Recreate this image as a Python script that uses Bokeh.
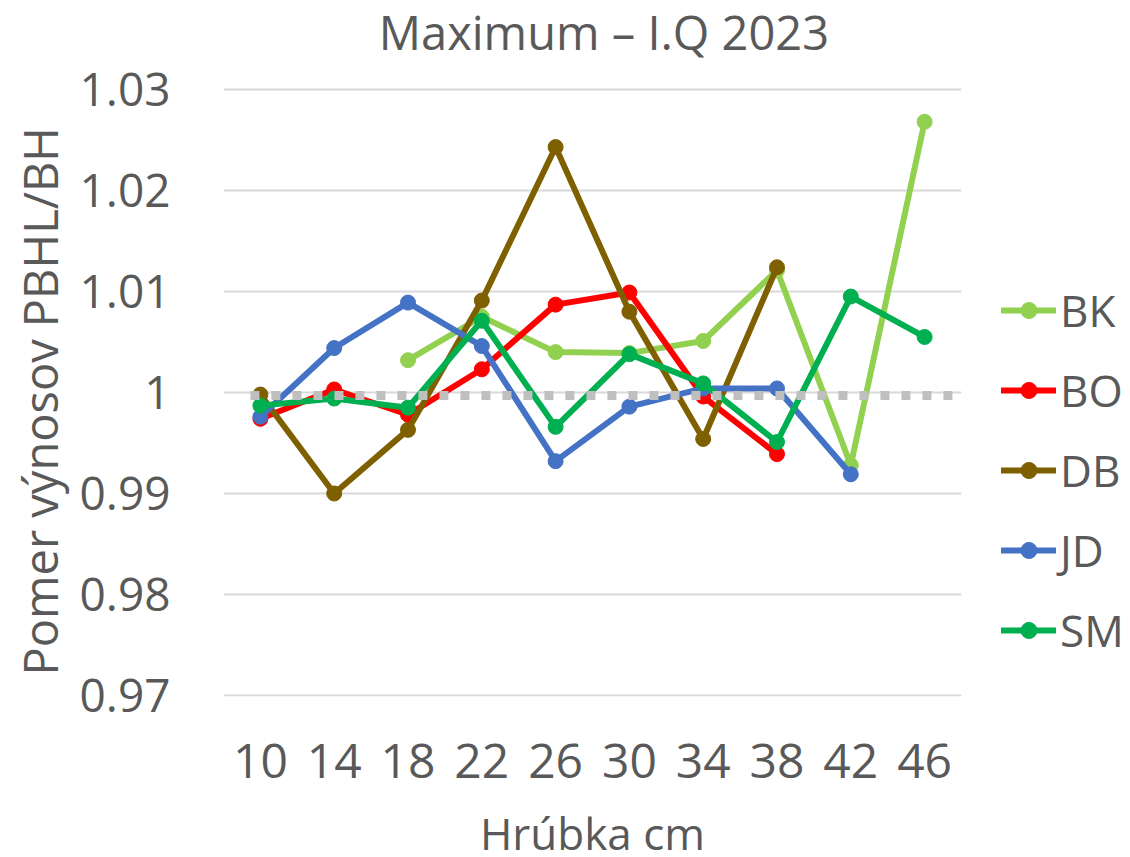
from bokeh.plotting import figure
from bokeh.models import FixedTicker, Legend, LegendItem, Range1d, Label, Title
from bokeh.embed import file_html
from bokeh.resources import INLINE

# ---- data ----
categories = [10, 14, 18, 22, 26, 30, 34, 38, 42, 46]
BK = [None, None, 1.0032, 1.0075, 1.0040, 1.0039, 1.0051, 1.0121, 0.9928, 1.0268]
BO = [0.9974, 1.0003, 0.9978, 1.0023, 1.0087, 1.0099, 0.9996, 0.9939, None, None]
DB = [0.9998, 0.9900, 0.9963, 1.0091, 1.0243, 1.0080, 0.9954, 1.0124, None, None]
JD = [0.9976, 1.0044, 1.0089, 1.0046, 0.9932, 0.9986, 1.0004, 1.0004, 0.9919, None]
SM = [0.9987, 0.9994, 0.9985, 1.0071, 0.9966, 1.0038, 1.0009, 0.9951, 1.0095, 1.0055]
reference_level = 0.9997
series_names = ["BK", "BO", "DB", "JD", "SM"]
series_values = [BK, BO, DB, JD, SM]
series_colors = ["#92D050", "#FF0000", "#7F6000", "#4472C4", "#00B050"]
y_ticks = [0.97, 0.98, 0.99, 1.0, 1.01, 1.02, 1.03]
y_tick_labels = ["0.97", "0.98", "0.99", "1", "1.01", "1.02", "1.03"]
title_text = "Maximum \u2013 I.Q 2023"
x_title = "Hr\u00fabka cm"
y_title = "Pomer v\u00fdnosov PBHL/BH"

FONT = "Open Sans"
TXT = "#595959"

# frame reaches the top of the canvas so the chart title can sit inside it;
# 1.03 maps to 89 px from the top, 0.97 to 695 px
p = figure(frame_width=738, frame_height=696,
           x_range=Range1d(8, 48), y_range=Range1d(0.969901, 1.038812),
           output_backend="svg", toolbar_location=None, title_location=None,
           min_border_left=221, min_border_right=171,
           min_border_top=0, min_border_bottom=161)
p.outline_line_color = None
p.background_fill_color = "white"
p.border_fill_color = "white"

# axes
p.xaxis.ticker = FixedTicker(ticks=categories)
p.yaxis.ticker = FixedTicker(ticks=y_ticks)
p.yaxis.major_label_overrides = dict(zip(y_ticks, y_tick_labels))
for ax in (p.xaxis, p.yaxis):
    ax.axis_line_color = None
    ax.major_tick_line_color = None
    ax.minor_tick_line_color = None
    ax.major_tick_out = 0
    ax.major_tick_in = 0
    ax.major_label_text_font = FONT
    ax.major_label_text_color = TXT
    ax.axis_label_text_font = FONT
    ax.axis_label_text_color = TXT
    ax.axis_label_text_font_style = "normal"
p.yaxis.major_label_text_font_size = "46px"
p.xaxis.major_label_text_font_size = "48px"
p.yaxis.major_label_standoff = 53
p.xaxis.major_label_standoff = 47
p.xaxis.axis_label = x_title
p.xaxis.axis_label_text_font_size = "44px"
p.xaxis.axis_label_standoff = 22

# y axis title as a side title (placed along the axis)
ytitle = Title(text=y_title, align="left", offset=21, standoff=10,
               text_font=FONT, text_font_size="47px", text_font_style="normal",
               text_color=TXT)
p.add_layout(ytitle, "left")

p.xgrid.grid_line_color = None
p.ygrid.ticker = FixedTicker(ticks=y_ticks)
p.ygrid.grid_line_color = "#D9D9D9"
p.ygrid.grid_line_width = 2

items = []
for name, vals, col in zip(series_names, series_values, series_colors):
    xs = [c for c, v in zip(categories, vals) if v is not None]
    ys = [v for v in vals if v is not None]
    ln = p.line(xs, ys, line_color=col, line_width=6, line_join="round", line_cap="round")
    sc = p.scatter(xs, ys, size=15, fill_color=col, line_color=col)
    items.append(LegendItem(label=name, renderers=[ln, sc]))

# dotted reference line
p.line([9.46, 48], [reference_level, reference_level], line_color="#BFBFBF",
       line_width=9, line_dash="9 12", line_cap="butt")

# chart title
p.add_layout(Label(x=28.62, y=1.03, y_offset=58, text=title_text,
                   text_font=FONT, text_font_size="47px", text_color=TXT,
                   text_align="center", text_baseline="alphabetic"))

legend = Legend(items=items, location=(40, 36), orientation="vertical")
legend.glyph_width = 55
legend.glyph_height = 40
legend.label_height = 40
legend.spacing = 20
legend.padding = 0
legend.margin = 0
legend.label_standoff = 4
legend.label_text_font = FONT
legend.label_text_font_size = "44px"
legend.label_text_color = TXT
legend.border_line_color = None
legend.background_fill_alpha = 0
p.add_layout(legend, "right")

open("out.html", "w").write(file_html(p, INLINE))
